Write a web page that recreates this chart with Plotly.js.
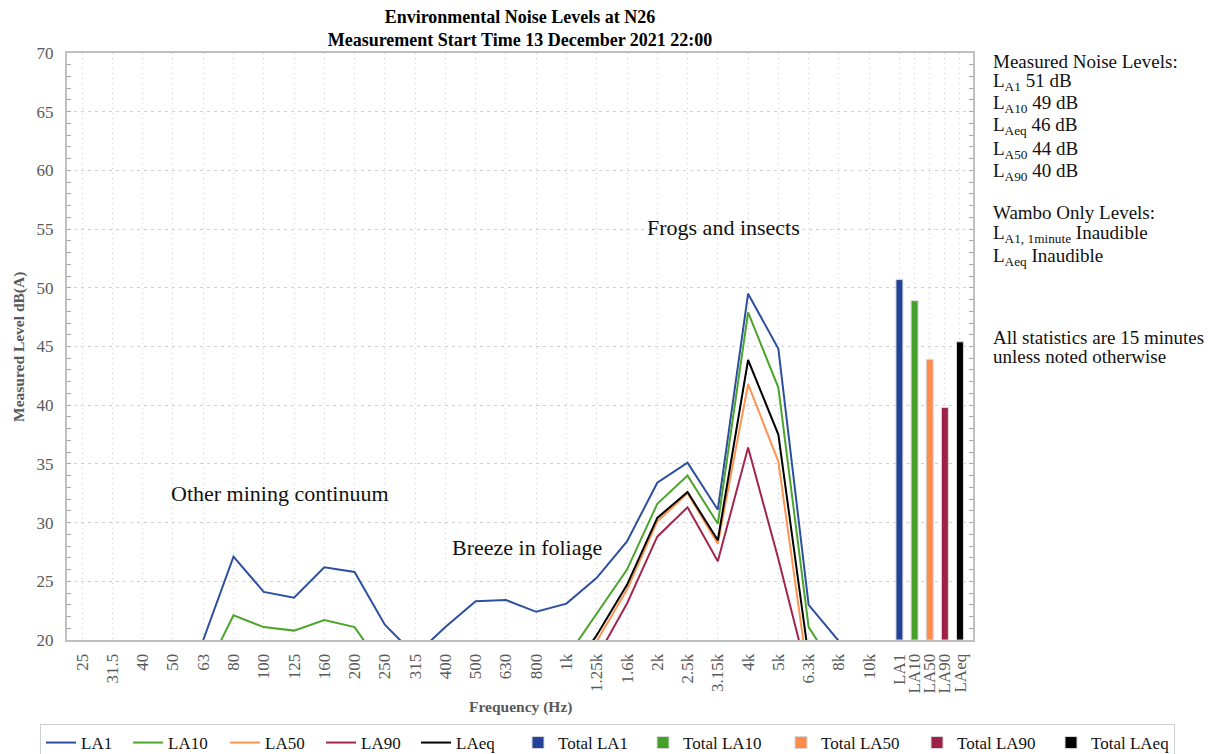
<!DOCTYPE html>
<html><head><meta charset="utf-8">
<script src="https://cdn.plot.ly/plotly-3.0.1.min.js"></script>
<style>html,body{margin:0;padding:0;background:#fff}#chart{width:1216px;height:754px}</style>
</head><body><div id="chart"></div>
<script>
// ---- data ----
const freqLabels = ['25','31.5','40','50','63','80','100','125','160','200','250','315','400','500','630','800','1k','1.25k','1.6k','2k','2.5k','3.15k','4k','5k','6.3k','8k','10k'];
const totalLabels = ['LA1','LA10','LA50','LA90','LAeq'];
const LA1  = [null,null,null,null,20.0,27.1,24.1,23.6,26.2,25.8,21.3,18.7,21.1,23.3,23.4,22.4,23.1,25.3,28.4,33.4,35.1,31.1,49.5,44.8,23.0,19.9,null];
const LA10 = [null,null,null,null,16.9,22.1,21.1,20.8,21.7,21.1,17.4,null,null,null,null,null,18.5,22.3,26.0,31.6,34.0,29.9,47.9,41.5,21.1,17.1,null];
const LA50 = [null,null,null,null,null,null,null,null,null,null,null,null,null,null,null,null,16.0,19.9,24.3,30.1,32.5,28.2,41.8,35.2,16.7,null,null];
const LA90 = [null,null,null,null,null,null,null,null,null,null,null,null,null,null,null,null,null,18.5,23.1,28.8,31.3,26.7,36.4,26.9,16.7,null,null];
const LAeq = [null,null,null,null,null,null,null,null,null,null,null,null,null,null,null,null,16.8,20.4,24.7,30.4,32.6,28.5,43.85,37.5,18.55,null,null];
const totals = [50.7, 48.9, 43.9, 39.8, 45.4];
const seriesNames = ['LA1','LA10','LA50','LA90','LAeq'];
const totalNames = ['Total LA1','Total LA10','Total LA50','Total LA90','Total LAeq'];

// ---- styles ----
const lineColors = ['#2d4f9f','#4ca42c','#ff9450','#a2254d','#000000'];
const barColors  = ['#22419a','#44a02a','#ff8c4c','#9e2046','#000000'];
const lineLegendW = [42, 52, 51, 50, 57];
const barLegendW  = [80, 93, 91, 89, 78];
const FONT = 'Liberation Serif, Times New Roman, serif';
const GRAY = '#595959';

const series = [LA1, LA10, LA50, LA90, LAeq];
const freqX = freqLabels.map((_, i) => i);
const totX = totalLabels.map((_, j) => freqLabels.length + 0.5 * j);

const traces = [];
series.forEach((s, k) => {
  traces.push({
    type: 'scatter', mode: 'lines', name: seriesNames[k],
    x: freqX, y: s, connectgaps: false,
    line: {color: lineColors[k], width: 2},
    legendwidth: lineLegendW[k], hoverinfo: 'skip'
  });
});
totals.forEach((v, j) => {
  traces.push({
    type: 'bar', name: totalNames[j],
    x: [totX[j]], y: [v - 20], base: 20, width: 0.23,
    marker: {color: barColors[j], line: {color: '#d8d8d8', width: 1}},
    legendwidth: barLegendW[j], hoverinfo: 'skip'
  });
});

// paper coordinate helpers (plot area 67..973 x 53..640)
const L = 67, R = 973, T = 53, B = 640;
const px = (p) => (p - L) / (R - L);
const py = (p) => (B - p) / (B - T);

const sideText = [
  ['Measured Noise Levels:', 61],
  ['L<sub>A1</sub> 51 dB', 82],
  ['L<sub>A10</sub> 49 dB', 104],
  ['L<sub>Aeq</sub> 46 dB', 126],
  ['L<sub>A50</sub> 44 dB', 150],
  ['L<sub>A90</sub> 40 dB', 172],
  ['Wambo Only Levels:', 212],
  ['L<sub>A1, 1minute</sub> Inaudible', 234],
  ['L<sub>Aeq</sub> Inaudible', 257],
  ['All statistics are 15 minutes', 337],
  ['unless noted otherwise', 356]
];

const annotations = sideText.map(([t, y]) => ({
  text: t, xref: 'paper', yref: 'paper', x: px(991), y: py(y),
  xanchor: 'left', yanchor: 'middle', showarrow: false,
  font: {family: FONT, size: 19, color: '#111'}
}));

const chartNotes = [
  ['Other mining continuum', 6.54, 32.5],
  ['Breeze in foliage', 14.7, 27.9],
  ['Frogs and insects', 21.2, 55.1]
];
chartNotes.forEach(([t, x, y]) => annotations.push({
  text: t, xref: 'x', yref: 'y', x: x, y: y, showarrow: false,
  xanchor: 'center', yanchor: 'middle',
  font: {family: FONT, size: 22, color: '#111'}
}));

annotations.push({
  text: '<b>Frequency (Hz)</b>', xref: 'paper', yref: 'paper', x: 0.5, y: py(707),
  xanchor: 'center', yanchor: 'middle', showarrow: false,
  font: {family: FONT, size: 15.5, color: GRAY}
});
annotations.push({
  text: '<b>Measured Level dB(A)</b>', xref: 'paper', yref: 'paper', x: px(19), y: py(347),
  xanchor: 'center', yanchor: 'middle', showarrow: false, textangle: -90,
  font: {family: FONT, size: 15.5, color: GRAY}
});

const layout = {
  width: 1216, height: 754,
  margin: {l: L, r: 1216 - R, t: T, b: 754 - B, pad: 0, autoexpand: false},
  paper_bgcolor: '#ffffff', plot_bgcolor: '#ffffff',
  font: {family: FONT, size: 17, color: '#111'},
  title: {
    text: '<b>Environmental Noise Levels at N26</b><br><b>Measurement Start Time 13 December 2021 22:00</b>',
    x: 0.5, xref: 'paper', xanchor: 'center', y: 0.9695, yref: 'container', yanchor: 'top',
    font: {family: FONT, size: 18, color: '#000'}
  },
  barmode: 'overlay',
  xaxis: {
    range: [-0.5, 29.43], tickmode: 'array',
    tickvals: freqX.concat(totX), ticktext: freqLabels.concat(totalLabels),
    tickangle: -90, tickfont: {family: FONT, size: 17, color: GRAY},
    ticks: '', showgrid: true, gridcolor: '#d0d0d0', griddash: '1px,4px', gridwidth: 1,
    showline: true, linecolor: '#bfbfbf', linewidth: 2, mirror: true,
    zeroline: false, fixedrange: true, automargin: false, ticklabelstandoff: 5
  },
  yaxis: {
    range: [20, 70], dtick: 5, tick0: 20,
    tickfont: {family: FONT, size: 17, color: GRAY},
    ticks: 'inside', ticklen: 4, tickcolor: '#a6a6a6',
    minor: {dtick: 1, ticks: 'inside', ticklen: 4, tickcolor: '#a6a6a6', showgrid: false},
    showgrid: true, gridcolor: '#d0d0d0', griddash: '3px,4px', gridwidth: 1,
    showline: true, linecolor: '#bfbfbf', linewidth: 2, mirror: 'ticks',
    zeroline: false, fixedrange: true, automargin: false, ticklabelstandoff: 8
  },
  showlegend: true,
  legend: {
    orientation: 'h', x: px(1175), xanchor: 'right', y: py(724), yanchor: 'top',
    bordercolor: '#d0d0d0', borderwidth: 1, bgcolor: 'rgba(0,0,0,0)',
    font: {family: FONT, size: 17, color: '#111'}, traceorder: 'normal',
    itemwidth: 30, tracegroupgap: 0
  },
  annotations: annotations
};

Plotly.newPlot('chart', traces, layout, {staticPlot: true, displayModeBar: false});
</script>
</body></html>
